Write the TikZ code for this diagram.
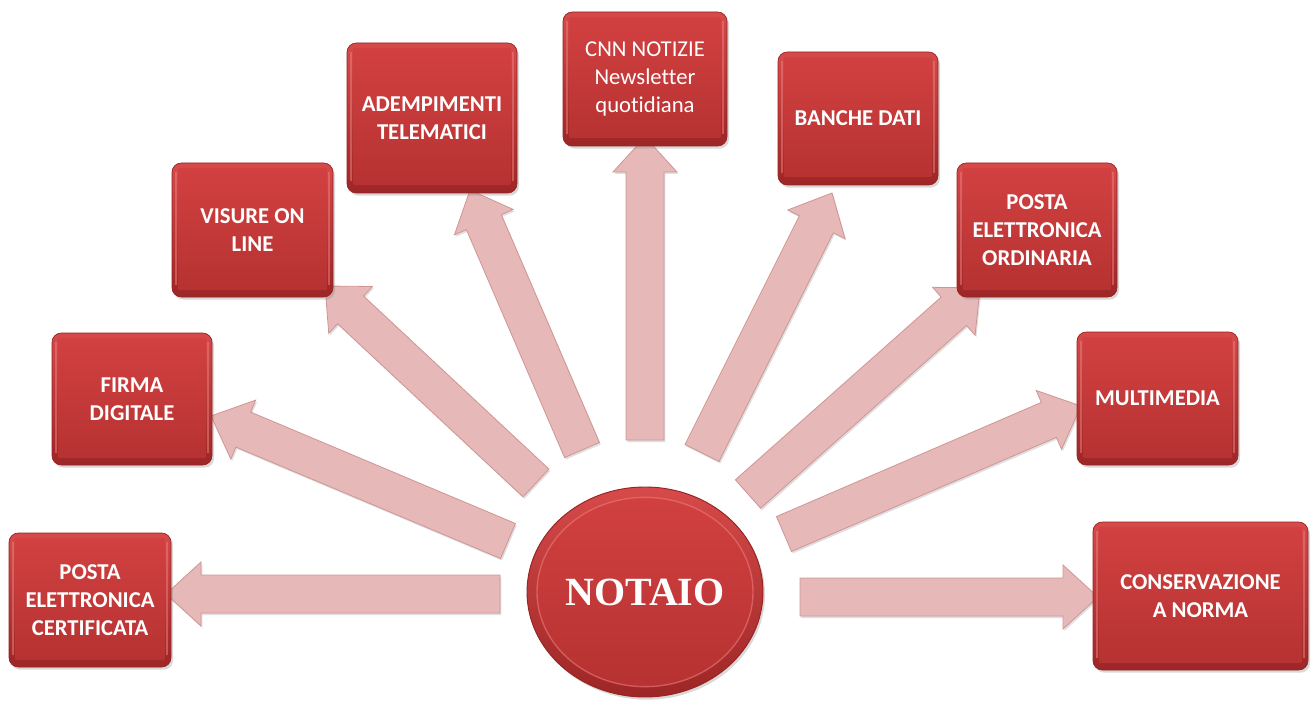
\documentclass[tikz,border=0pt]{standalone}
\usepackage{fontspec}
\setmainfont{Carlito}[Ligatures=NoCommon]
\newfontfamily\notaiofont{Liberation Serif}
\usetikzlibrary{calc,shadows,shapes.geometric}
\definecolor{arrowpink}{HTML}{E6B9B8}
\definecolor{arrowedge}{HTML}{CF9594}
\definecolor{boxtop}{HTML}{D64A4A}
\definecolor{boxbot}{HTML}{9E2626}
\definecolor{innertop}{HTML}{D34141}
\definecolor{innerbot}{HTML}{B53131}
\definecolor{boxedge}{HTML}{962222}
\definecolor{rimlight}{HTML}{EE7A7A}
\pgfdeclarelayer{bg}
\pgfsetlayers{bg,main}
\tikzset{
  redbox/.style 2 args={rectangle, rounded corners=7pt, minimum width={#1*0.75pt}, minimum height={#2*0.75pt},
    inner sep=0pt, top color=boxtop, bottom color=boxbot, draw=boxedge, line width=0.5pt,
    text=white, align=center, font=\bfseries\fontsize{17}{21}\selectfont,
    drop shadow={shadow xshift=1.5pt, shadow yshift=-2pt, opacity=0.3},
    path picture={
      \shade[sharp corners, top color=innertop, bottom color=innerbot]
        ([shift={(5pt,-4pt)}]path picture bounding box.north west) rectangle
        ([shift={(-5pt,6pt)}]path picture bounding box.south east);
      \draw[sharp corners, rimlight, opacity=0.55, line width=1.4pt]
        ([shift={(3pt,-7pt)}]path picture bounding box.north west) --
        ([shift={(3pt,9pt)}]path picture bounding box.south west);
      \draw[sharp corners, rimlight, opacity=0.55, line width=1.4pt]
        ([shift={(-3pt,-7pt)}]path picture bounding box.north east) --
        ([shift={(-3pt,9pt)}]path picture bounding box.south east);
    }},
  hubnode/.style={ellipse, minimum width=177pt, minimum height=157.5pt, inner sep=0pt,
    top color=boxtop, bottom color=boxbot, draw=boxedge, line width=0.7pt,
    text=white, font=\notaiofont\bfseries\fontsize{30}{32}\selectfont,
    drop shadow={shadow xshift=1.5pt, shadow yshift=-2pt, opacity=0.3},
    path picture={
      \shade[top color=innertop, bottom color=innerbot]
        (path picture bounding box.center) ellipse [x radius=81pt, y radius=71pt];
      \draw[rimlight, opacity=0.6, line width=1pt]
        (path picture bounding box.center) ellipse [x radius=81pt, y radius=71pt];
    }},
  pinkarrow/.style={fill=arrowpink, draw=arrowedge, line width=0.6pt, line join=miter,
    drop shadow={shadow xshift=1pt, shadow yshift=-1.5pt, opacity=0.25}}
}
\newcommand{\blockarrow}[2]{%
  \coordinate (hb) at ($(#2)!26.25pt!(#1)$);
  \path[pinkarrow] ($(#1)!14.25pt!90:(#2)$) -- ($(hb)!14.25pt!90:(#2)$) -- ($(hb)!24pt!90:(#2)$) --
    (#2) -- ($(hb)!24pt!-90:(#2)$) -- ($(hb)!14.25pt!-90:(#2)$) -- ($(#1)!14.25pt!-90:(#2)$) -- cycle;}
\begin{document}
\begin{tikzpicture}[x=0.75pt, y=-0.75pt]
\useasboundingbox (0,0) rectangle (1311,706);
% nodes
\node[hubnode] (notaio) at (645,592) {NOTAIO};
\node[redbox={162}{134}] (pec) at (90,600) {POSTA\\ELETTRONICA\\CERTIFICATA};
\node[redbox={160}{132}] (firma) at (132,399) {FIRMA\\DIGITALE};
\node[redbox={161}{134}] (visure) at (252.5,230) {VISURE ON\\LINE};
\node[redbox={170}{150}] (adem) at (432,118) {ADEMPIMENTI\\TELEMATICI};
\node[redbox={164}{134}, font=\mdseries\fontsize{17}{21}\selectfont] (cnn) at (645,79) {CNN NOTIZIE\\Newsletter\\quotidiana};
\node[redbox={160}{133}] (banche) at (858,118.5) {BANCHE DATI};
\node[redbox={160}{134}] (pord) at (1037,230) {POSTA\\ELETTRONICA\\ORDINARIA};
\node[redbox={161}{133}] (multi) at (1157.5,398.5) {MULTIMEDIA};
\node[redbox={215}{148}] (cons) at (1200.5,596) {CONSERVAZIONE\\A NORMA};
% arrow ends
\coordinate (tpec) at (500,594);    \coordinate (hpec) at (166,594);
\coordinate (tfirma) at (508,541);  \coordinate (hfirma) at (211,416);
\coordinate (tvis) at (536,483);    \coordinate (hvis) at (325,286);
\coordinate (tadem) at (582,450);   \coordinate (hadem) at (470,190);
\coordinate (tcnn) at (645,440);    \coordinate (hcnn) at (645,137);
\coordinate (tban) at (702,453);    \coordinate (hban) at (832,193);
\coordinate (tpord) at (748,494);   \coordinate (hpord) at (980,288);
\coordinate (tmul) at (784,534);    \coordinate (hmul) at (1081,406);
\coordinate (tcons) at (800,597);   \coordinate (hcons) at (1098,597);
\begin{pgfonlayer}{bg}
\blockarrow{tpec}{hpec}
\blockarrow{tfirma}{hfirma}
\blockarrow{tvis}{hvis}
\blockarrow{tadem}{hadem}
\blockarrow{tcnn}{hcnn}
\blockarrow{tban}{hban}
\blockarrow{tpord}{hpord}
\blockarrow{tmul}{hmul}
\blockarrow{tcons}{hcons}
\end{pgfonlayer}
\end{tikzpicture}
\end{document}
